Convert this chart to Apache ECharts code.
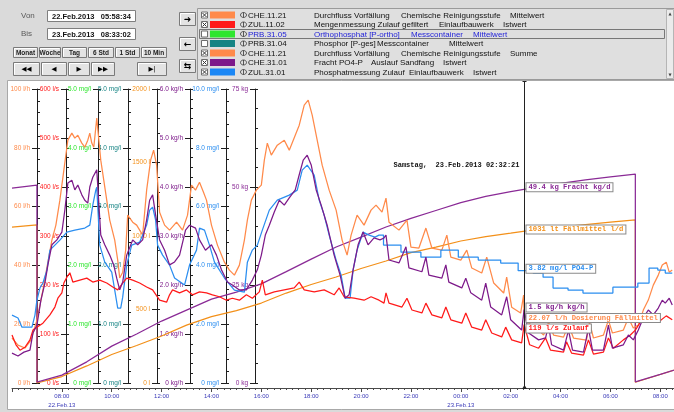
<!DOCTYPE html>
<html>
<head>
<meta charset="utf-8">
<script src="https://cdn.jsdelivr.net/npm/echarts@6/dist/echarts.min.js"></script>
<style>
  html, body { margin: 0; padding: 0; background: #ffffff; }
  #trend { width: 674px; height: 412px; }
</style>
</head>
<body>
<div id="trend"></div>
<script>
// ---- Trend data: sample times are hours after 22.Feb.2013 06:00 ----
const rangeFrom = '22.Feb.2013   05:58:34';
const rangeTo = '23.Feb.2013   08:33:02';
const rangeEndHour = 26.5506;          // 23.Feb.2013 08:33:02
const cursorHour = 20.5392;            // 23.Feb.2013 02:32:21
const cursorStamp = 'Samstag,  23.Feb.2013 02:32:21';
const dateMarks = { 2: '22.Feb.13', 18: '23.Feb.13' };

// ZUL.11.02 Mengenmessung Zulauf gefiltert [l/s]
const inflow = [[0,98],[0.16,78],[0.32,67],[0.52,73],[0.72,88],[0.84,108],[1,114],[1.24,122],[1.52,139],[1.72,155],[1.84,173],[2,184],[2.08,204],[2.2,216],[2.32,225],[2.44,206],[2.72,210],[3,214],[3.24,206],[3.52,210],[3.8,204],[4.04,196],[4.24,190],[4.44,204],[4.6,214],[4.84,210],[5.12,204],[5.4,196],[5.64,190],[5.92,169],[6.2,165],[6.32,180],[6.44,190],[6.72,184],[7,190],[7.24,180],[7.52,186],[7.8,184],[8.04,180],[8.32,176],[8.6,169],[8.84,173],[9.12,169],[9.4,180],[9.64,173],[9.92,186],[10.04,210],[10.16,180],[10.52,186],[10.92,190],[11.32,194],[11.52,206],[11.72,190],[12.12,186],[12.52,190],[12.92,180],[13.12,194],[13.32,176],[13.72,173],[14.12,169],[14.4,176],[14.72,169],[14.92,163],[15,184],[15.12,163],[15.64,155],[15.84,173],[16.04,149],[16.44,143],[16.6,163],[16.84,139],[17.24,133],[17.4,155],[17.6,129],[18.04,122],[18.2,143],[18.44,114],[18.84,108],[19,129],[19.24,102],[19.64,94],[19.8,114],[20.04,88],[20.44,82],[20.54,119],[20.76,78],[21.12,71],[21.4,92],[21.6,67],[22.12,63],[22.24,84],[22.44,61],[22.92,57],[23.12,88],[23.32,59],[23.72,63],[23.92,92],[24.12,71],[24.52,88],[24.8,98],[25,108],[25.2,124],[25.52,133],[25.92,124],[26.24,137],[26.48,129]];

// CHE.11.21 Durchfluss Vorfällung, Mittelwert [l/h]
const dosingFlow = [[0,15.3],[0.24,12.9],[0.52,11.9],[0.76,14.6],[1,21.4],[1.24,31.6],[1.44,41.1],[1.6,48.6],[1.76,53.7],[1.92,62.2],[2.08,72.4],[2.24,82.6],[2.4,85],[2.52,83.3],[2.64,84.3],[2.8,81.6],[2.92,80.2],[3.04,82.6],[3.12,85],[3.2,81.6],[3.28,80.2],[3.4,90.1],[3.48,90.4],[3.56,75.8],[3.68,69],[3.8,62.2],[3.92,55.4],[4.12,48.6],[4.24,41.8],[4.32,35.7],[4.44,37.7],[4.56,45.2],[4.64,57.1],[4.84,54.7],[5,53.7],[5.24,50.3],[5.4,65.6],[5.56,75.8],[5.68,79.2],[5.8,74.1],[5.92,58.1],[6.12,53.7],[6.32,52],[6.6,54.7],[6.84,52],[7.04,57.1],[7.2,67.3],[7.36,65.6],[7.52,68.3],[7.68,64.9],[7.8,62.2],[8,53.7],[8.24,46.9],[8.52,41.1],[8.72,38.4],[8.92,36.7],[9.12,40.1],[9.32,48.6],[9.44,55.4],[9.6,62.2],[9.8,65.6],[10,67.3],[10.12,75.8],[10.24,81.6],[10.4,77.5],[10.64,80.9],[10.92,82.6],[11.12,79.2],[11.36,84.3],[11.52,87.7],[11.72,94.5],[11.88,96.2],[12.04,91.1],[12.24,82.6],[12.44,74.1],[12.72,65.6],[13,58.8],[13.24,48.6],[13.44,43.5],[13.6,50.3],[13.84,57.1],[14.12,53.7],[14.4,58.8],[14.6,60.5],[14.84,58.1],[15,62.9],[15.12,54.7],[15.52,52],[15.84,55.4],[16,46.2],[16.32,45.9],[16.6,52.7],[16.84,45.9],[17.24,45.2],[17.44,50.3],[17.6,42.8],[18,41.8],[18.24,45.2],[18.44,39.1],[18.84,37.4],[19.04,42.8],[19.32,34],[19.72,30.6],[19.84,36],[20.04,25.8],[20.4,23.8],[20.52,29.9],[20.54,22.07],[20.72,20.4],[21.12,18],[21.32,16.3],[21.52,20.7],[21.72,16.3],[22.12,15.6],[22.32,19.7],[22.52,15.3],[23.04,14.6],[23.16,20.7],[23.32,15.3],[23.72,16.3],[23.92,21.4],[24.08,17],[24.52,18],[24.72,22.1],[24.92,18.7],[25.12,19.7],[25.32,24.8],[25.52,28.2],[25.72,33.3],[25.92,36.7],[26.08,40.1],[26.24,41.1],[26.36,37.7],[26.48,38.4]];

// CHE.31.01 Fracht PO4-P, Auslauf Sandfang [kg/h]
const phosphateLoad = [[0,0.61],[0.24,0.55],[0.48,0.63],[0.72,0.67],[0.84,1.02],[1,1.18],[1.16,1.69],[1.32,2.04],[1.44,2.41],[1.6,2.82],[1.8,2.92],[2,3.08],[2.12,3.53],[2.24,4.08],[2.4,4.14],[2.52,3.94],[2.64,4.04],[2.8,3.84],[2.92,3.73],[3.04,3.67],[3.12,4],[3.24,4.2],[3.4,4.35],[3.48,4.31],[3.56,3.02],[3.72,2.82],[3.92,2.61],[4.08,2.41],[4.2,2.14],[4.32,1.9],[4.44,2.06],[4.6,2.61],[4.84,2.92],[5.04,2.82],[5.24,2.92],[5.4,3.33],[5.52,3.73],[5.64,3.84],[5.76,3.43],[5.92,2.92],[6.12,2.71],[6.32,2.41],[6.52,2.47],[6.72,2.61],[6.96,3.12],[7.12,3.22],[7.36,3.16],[7.52,2.92],[7.76,2.71],[8,2.82],[8.2,2.61],[8.4,2.31],[8.64,2.06],[8.84,2],[9.12,1.9],[9.4,1.9],[9.64,2.1],[9.84,2.31],[10,2.61],[10.16,3.02],[10.32,3.22],[10.52,3.49],[10.72,3.73],[10.92,3.63],[11.12,3.78],[11.36,3.94],[11.52,4.25],[11.68,4.55],[11.84,4.65],[12,4.45],[12.2,3.94],[12.4,3.63],[12.64,3.22],[12.92,2.61],[13.16,2.2],[13.36,1.73],[13.52,1.8],[13.68,2.31],[13.88,2.82],[14.08,3.08],[14.28,2.82],[14.52,2.96],[14.76,2.92],[14.92,2.96],[15,3.02],[15.12,2.51],[15.52,2.45],[15.8,2.78],[15.92,2.35],[16.44,2.27],[16.6,2.57],[16.72,2.2],[17.24,2.14],[17.4,2.41],[17.52,2.06],[18.04,1.94],[18.2,2.14],[18.4,1.84],[18.84,1.69],[19,2.04],[19.2,1.55],[19.64,1.39],[19.84,1.76],[20,1.29],[20.44,1.08],[20.54,1.5],[20.72,1.02],[21.12,0.88],[21.4,0.92],[21.52,1.18],[21.64,0.78],[22.12,0.67],[22.32,1.08],[22.48,0.67],[22.92,0.63],[23.12,1.12],[23.28,0.67],[23.72,0.67],[23.92,1.18],[24.08,0.71],[24.52,0.78],[24.72,0.98],[24.92,0.88],[25.12,1.08],[25.32,1.33],[25.52,1.49],[25.72,1.39],[25.92,1.53],[26.08,1.69],[26.2,1.63],[26.36,1.73],[26.48,1.59]];

// ZUL.31.01 Phosphatmessung Zulauf [mg/l] - analyser value, held between measurements
const phosphateConc = [[0,2.31],[0.24,2.21],[0.4,1.9],[0.8,1.9],[0.92,2.31],[1,2.82],[1.12,3.23],[1.24,3.4],[1.4,3.84],[1.52,4.52],[1.72,4.69],[1.92,4.86],[2.2,5.13],[2.52,5.2],[2.92,5.27],[3.12,5.37],[3.24,6.05],[3.36,6.56],[3.4,6.66],[3.48,6.63],[3.52,4.69],[3.72,4.11],[4,3.77],[4.12,3.16],[4.24,2.55],[4.36,2.55],[4.44,2.92],[4.6,4.01],[4.8,4.69],[5.12,4.79],[5.4,5.37],[5.52,5.88],[5.64,5.98],[5.76,5.54],[5.84,4.69],[6.04,4.35],[6.32,4.01],[6.52,3.57],[6.92,3.33],[7.12,4.01],[7.4,4.52],[7.52,5.27],[7.72,5.2],[7.92,4.69],[8.12,4.11],[8.52,3.57],[8.92,3.16],[9.32,3.09],[9.44,4.11],[9.64,4.52],[9.84,4.69],[10.04,5.2],[10.32,5.88],[10.64,6.22],[11.12,6.39],[11.44,6.56],[11.64,7.24],[11.84,7.41],[12.12,7.07],[12.32,6.22],[12.52,5.71],[12.72,5.03],[13,4.18],[13.2,3.67],[13.36,2.89],[13.56,2.89],[13.68,3.84],[13.84,4.52],[14.08,5.13],[14.32,5.03],[14.56,4.96],[14.72,5.03],[14.9,5.03],[14.9,4.69],[15.6,4.69],[15.6,4.45],[16.4,4.45],[16.4,4.28],[17.2,4.28],[17.2,4.52],[17.9,4.52],[17.9,4.28],[18.7,4.28],[18.7,4.18],[19.6,4.18],[19.6,4.08],[20.3,4.08],[20.3,3.82],[20.9,3.82],[20.9,3.74],[21.3,3.74],[21.3,3.6],[21.7,3.6],[21.7,3.23],[22.3,3.23],[22.3,3.16],[22.9,3.16],[22.9,3.06],[24.1,3.06],[24.1,3.26],[25.1,3.26],[25.1,3.4],[25.55,3.4],[25.55,3.91],[25.9,3.91],[25.9,3.84],[26.2,3.84],[26.2,3.74],[26.48,3.74]];

// CHE.11.21 Durchfluss Vorfällung, Summe [l] - daily counter, reset at 07:00
const dosingDailySum = [[0,1060],[1,1075],[1,0],[2,44],[3,116],[4,194],[5,255],[6,320],[7,394],[8,452],[9,493],[10,544],[11,612],[12,670],[13,721],[14,779],[15,830],[16,887],[17,925],[18,966],[19,995],[20,1019],[21,1044],[22,1062],[23,1078],[24,1094],[25,1110],[25,5],[26,58],[27,112]];

// Fracht PO4-P, Tagessumme [kg] - daily counter, reset at 07:00
const loadDailySum = [[0,49.7],[1,50.5],[1,0.2],[2,2.0],[3,5.4],[4,9.4],[5,12.5],[6,15.8],[7,18.6],[8,21.4],[9,23.2],[10,25.3],[11,28.4],[12,31.6],[13,34.7],[14,37.2],[15,39.8],[16,42.0],[17,44.0],[18,46.0],[19,47.6],[20,48.8],[21,49.9],[22,50.9],[23,51.8],[24,52.6],[25,53.3],[25,0.3],[26,2.2],[27,4.2]];

// Value axes: range, step and unit
const axisMax = [100, 600, 5, 5, 2000, 6, 10, 75];
const axisStep = [20, 100, 1, 1, 500, 1, 2, 25];
const axisUnit = ['l/h', 'l/s', 'mg/l', 'mg/l', 'l', 'kg/h', 'mg/l', 'kg'];
const axisDigits = [0, 0, 1, 1, 0, 1, 1, 0];

// Cursor readout at 02:32:21
const readoutValues = [49.4, 1031, 3.82, 1.5, 22.07, 119];
const readoutTexts = ['49.4 kg Fracht kg/d', '1031 lt Fällmittel l/d', '3.82 mg/l PO4-P', '1.5 kg/h kg/h', '22.07 l/h Dosierung Fällmittel', '119 l/s Zulauf'];
const readoutAxis = [7, 4, 6, 5, 0, 1];

// Channel list
const channelIds = ['CHE.11.21', 'ZUL.11.02', 'PRB.31.05', 'PRB.31.04', 'CHE.11.21', 'CHE.31.01', 'ZUL.31.01'];
const channelNames = [
  ['Durchfluss Vorfällung', 'Chemische Reinigungsstufe', 'Mittelwert'],
  ['Mengenmessung Zulauf gefiltert', 'Einlaufbauwerk', 'Istwert'],
  ['Orthophosphat [P-ortho]', 'Messcontainer', 'Mittelwert'],
  ['Phosphor [P-ges]', 'Messcontainer', 'Mittelwert'],
  ['Durchfluss Vorfällung', 'Chemische Reinigungsstufe', 'Summe'],
  ['Fracht PO4-P', 'Auslauf Sandfang', 'Istwert'],
  ['Phosphatmessung Zulauf', 'Einlaufbauwerk', 'Istwert']
];
const channelChecked = [true, true, false, false, true, true, true];
const periodButtons = ['Monat', 'Woche', 'Tag', '6 Std', '1 Std', '10 Min'];
const stepButtons = ['◀◀', '◀', '▶', '▶▶', '▶|'];

// ---- Styling ----
const C = {
  dosing: '#ff8a4a', inflow: '#ff1a1a', ortho: '#2ee62e', pges: '#168484',
  dosingSum: '#f39019', load: '#7d1a8a', loadSum: '#8a2a96', conc: '#2b8ef0'
};
const axisColors = [C.dosing, C.inflow, C.ortho, C.pges, C.dosingSum, C.load, C.conc, C.loadSum];
const axisX = [37, 66, 98, 128, 157, 190, 226, 255];
const channelColors = [C.dosing, C.inflow, C.ortho, C.pges, C.dosing, C.load, '#1b87f5'];
const readoutColors = [C.loadSum, C.dosingSum, C.conc, C.load, C.dosing, C.inflow];
const gridLeft = 12;

const chart = echarts.init(document.getElementById('trend'));

function pad2(n) { return String(n).padStart(2, '0'); }

const yAxes = [];
axisMax.forEach((max, k) => {
  const common = {
    type: 'value', position: 'left', offset: gridLeft - axisX[k],
    min: 0, max: max, interval: axisStep[k], splitLine: { show: false }
  };
  yAxes.push(Object.assign({}, common, {
    axisLine: { show: true, onZero: false, lineStyle: { color: '#1e1e1e', width: 1 } },
    axisTick: { show: true, length: 5, lineStyle: { color: '#1e1e1e' } },
    axisLabel: {
      color: axisColors[k], fontSize: 6.5, margin: 7, fontFamily: 'Liberation Sans',
      formatter: v => (v === 0 ? '0' : v.toFixed(axisDigits[k])) + ' ' + axisUnit[k]
    }
  }));
  // twin axis carrying the inner scale marks
  yAxes.push(Object.assign({}, common, {
    axisLine: { show: false, onZero: false },
    axisLabel: { show: false },
    axisTick: { show: true, inside: true, length: 3, lineStyle: { color: '#1e1e1e' } },
    minorTick: { show: true, splitNumber: 5, length: 3, lineStyle: { color: '#1e1e1e' } }
  }));
});

const traces = [
  { data: dosingDailySum, axis: 4, color: C.dosingSum },
  { data: loadDailySum, axis: 7, color: C.loadSum },
  { data: dosingFlow, axis: 0, color: C.dosing },
  { data: phosphateConc, axis: 6, color: C.conc },
  { data: inflow, axis: 1, color: C.inflow },
  { data: phosphateLoad, axis: 5, color: C.load }
];

chart.setOption({
  animation: false,
  backgroundColor: '#ffffff',
  textStyle: { fontFamily: 'Liberation Sans' },
  grid: { left: gridLeft, top: 89, width: 664, height: 294 },
  xAxis: {
    type: 'value', min: 0, max: rangeEndHour, interval: 2, offset: 5,
    splitLine: { show: false },
    axisLine: { onZero: false, lineStyle: { color: '#4a4a4a' } },
    axisTick: { length: 4, lineStyle: { color: '#4a4a4a' } },
    minorTick: { show: true, splitNumber: 8, length: 2, lineStyle: { color: '#4a4a4a' } },
    axisLabel: {
      fontSize: 6, color: '#3a3ab8', margin: 4, lineHeight: 9,
      showMinLabel: false, showMaxLabel: false,
      formatter: h => {
        const r = Math.round(h);
        const clock = pad2((6 + r) % 24) + ':00';
        return dateMarks[r] ? clock + '\n' + dateMarks[r] : clock;
      }
    }
  },
  yAxis: yAxes,
  series: traces.map(t => ({
    type: 'line', data: t.data, yAxisIndex: 2 * t.axis, showSymbol: false, symbol: 'none',
    silent: true, lineStyle: { color: t.color, width: 1.25 }, itemStyle: { color: t.color }
  }))
});

// ---- Control panel and cursor drawn as graphic elements ----
const G = [];
const panelGray = '#dadada';
function box(x, y, w, h, fill, stroke, z) {
  G.push({ type: 'rect', silent: true, z: z || 100, shape: { x, y, width: w, height: h },
    style: { fill: fill || 'none', stroke: stroke || 'none', lineWidth: 1 } });
}
function seg(x1, y1, x2, y2, color, w) {
  G.push({ type: 'line', silent: true, z: 102, shape: { x1, y1, x2, y2 }, style: { stroke: color, lineWidth: w || 1 } });
}
function txt(x, y, text, extra) {
  G.push({ type: 'text', silent: true, z: 103, x, y,
    style: Object.assign({ text, fontFamily: 'Liberation Sans', fontSize: 8, fill: '#111',
      align: 'left', verticalAlign: 'middle' }, extra || {}) });
}
function button(x, y, w, h, text, extra) {
  box(x + 0.5, y + 0.5, w - 1, h - 1, '#e3e3e3', '#7a7a7a', 101);
  seg(x + 1.5, y + 1.5, x + w - 1.5, y + 1.5, '#ffffff');
  seg(x + 1.5, y + 1.5, x + 1.5, y + h - 1.5, '#ffffff');
  txt(x + w / 2, y + h / 2 + 0.5, text, Object.assign({ align: 'center', fontSize: 6.5, fontWeight: 'bold', fill: '#222' }, extra || {}));
}

// frame around the plot
box(0, 0, 674, 81, panelGray);
box(0, 81, 8, 331, panelGray);
box(0, 409, 674, 3, panelGray);
box(7.5, 80.5, 668, 329, null, '#a8a8a8');

// time range
txt(21, 16, 'Von', { fill: '#5a5a5a' });
box(47.5, 10.5, 88, 11, '#ffffff', '#7f7f7f', 101);
txt(52, 16.5, rangeFrom, { fontWeight: 'bold', fontSize: 7.5 });
txt(21, 33.5, 'Bis', { fill: '#5a5a5a' });
box(47.5, 28.5, 88, 11, '#ffffff', '#7f7f7f', 101);
txt(52, 34.5, rangeTo, { fontWeight: 'bold', fontSize: 7.5 });

const periodX = [13, 39, 62, 88, 115, 141], periodW = [25, 22, 25, 26, 25, 26];
periodButtons.forEach((b, i) => button(periodX[i], 47, periodW[i], 11, b));
const stepX = [13, 41, 68, 91, 137], stepW = [27, 26, 22, 24, 30];
stepButtons.forEach((b, i) => button(stepX[i], 62, stepW[i], 14, b, { fontFamily: 'DejaVu Sans', fontSize: 6.5, fontWeight: 'normal', fill: '#000' }));
['➜', '←', '⇆'].forEach((b, i) => button(179, [12, 37, 59][i], 17, 14, b, { fontFamily: 'DejaVu Sans', fontSize: 9, fill: '#000' }));

// channel list
box(197.5, 8.5, 477, 71, '#dfdfdf', '#9a9a9a', 100);
const descX = [[314, 401, 510], [314, 439, 503], [314, 411, 473], [314, 377, 449], [314, 401, 510], [314, 371, 443], [314, 409, 473]];
channelIds.forEach((id, i) => {
  const yc = 15 + i * 9.5;
  box(201.5, yc - 3, 6, 6, '#ffffff', '#6e6e6e', 101);
  if (channelChecked[i]) {
    seg(202.5, yc - 2, 206.5, yc + 2, '#333');
    seg(206.5, yc - 2, 202.5, yc + 2, '#333');
  }
  box(210, yc - 3.5, 25, 7, channelColors[i], null, 101);
  G.push({ type: 'ellipse', silent: true, z: 102, shape: { cx: 243.5, cy: yc, rx: 3, ry: 2.5 }, style: { fill: 'none', stroke: '#333', lineWidth: 0.8 } });
  seg(243.5, yc - 2.5, 243.5, yc + 2.5, '#333', 0.8);
  const selected = i === 2;
  const col = selected ? '#2323d8' : '#111';
  txt(248, yc + 0.5, id, { fill: col });
  channelNames[i].forEach((n, j) => txt(descX[i][j], yc + 0.5, n, { fill: col }));
});
box(199.5, 29.5, 465, 9, null, '#777777', 101);
box(666.5, 9.5, 7, 69, '#ebebeb', '#b5b5b5', 101);
txt(670, 13.5, '▲', { align: 'center', fontSize: 4, fill: '#444', fontFamily: 'DejaVu Sans' });
txt(670, 75, '▼', { align: 'center', fontSize: 4, fill: '#444', fontFamily: 'DejaVu Sans' });

// cursor line and readouts
const cx = Math.round(chart.convertToPixel({ xAxisIndex: 0 }, cursorHour)) + 0.5;
seg(cx, 81, cx, 388, '#222');
seg(cx - 2, 81.5, cx + 2, 81.5, '#222');
G.push({ type: 'polygon', silent: true, z: 102, shape: { points: [[cx - 2.5, 389], [cx + 2.5, 389], [cx, 385]] }, style: { fill: '#222' } });
txt(cx - 5, 165.5, cursorStamp, { align: 'right', fontFamily: 'Liberation Mono', fontWeight: 'bold', fontSize: 7, fill: '#111' });

let prevCenter = -Infinity;
readoutValues.forEach((v, i) => {
  const y = chart.convertToPixel({ yAxisIndex: 2 * readoutAxis[i] }, v);
  const c = Math.max(y - 2, prevCenter + 10.5);
  prevCenter = c;
  txt(cx + 2, c, readoutTexts[i], {
    fontFamily: 'Liberation Mono', fontWeight: 'bold', fontSize: 7.2, fill: readoutColors[i],
    backgroundColor: '#ffffff', borderColor: '#8a8a8a', borderWidth: 1, padding: [1, 2, 0, 2]
  });
});

chart.setOption({ graphic: { elements: G } });
</script>
</body>
</html>
